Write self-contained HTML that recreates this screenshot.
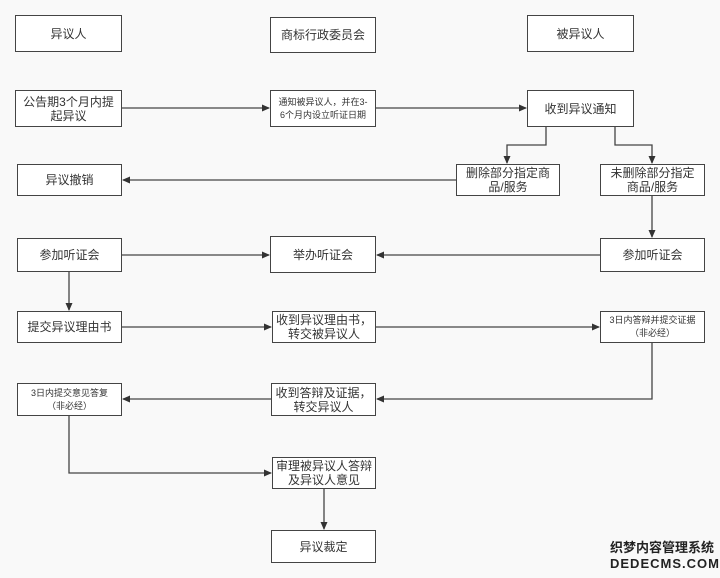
<!DOCTYPE html>
<html><head><meta charset="utf-8"><style>
body{margin:0;width:720px;height:578px;background:#f9f9f9;overflow:hidden;position:relative;font-family:"Liberation Sans","Noto Sans CJK SC",sans-serif;}
.b{position:absolute;border:1.5px solid #444;background:#fff;box-sizing:border-box;display:flex;align-items:center;justify-content:center;text-align:center;font-size:12px;color:#333;line-height:14px;}
.s{font-size:9px;line-height:13px;}
svg{position:absolute;left:0;top:0;}
</style></head><body>
<svg width="720" height="578">
<defs><marker id="a" markerWidth="8" markerHeight="8" refX="7" refY="4" orient="auto" markerUnits="userSpaceOnUse"><path d="M0,0.5 L8,4 L0,7.5z" fill="#333"/></marker></defs>
<g stroke="#444" stroke-width="1.3" fill="none" marker-end="url(#a)">
<path d="M122,108H269"/>
<path d="M376,108H526"/>
<path d="M546,127V145H507V163"/>
<path d="M615,127V145H652V163"/>
<path d="M456,180H123"/>
<path d="M652,196V237"/>
<path d="M600,255H377"/>
<path d="M122,255H269"/>
<path d="M69,272V310"/>
<path d="M122,327H271"/>
<path d="M376,327H599"/>
<path d="M652,343V399H377"/>
<path d="M271,399H123"/>
<path d="M69,416V473H271"/>
<path d="M324,489V529"/>
</g></svg>
<div class="b" style="left:15px;top:15px;width:107px;height:37px">异议人</div>
<div class="b" style="left:270px;top:17px;width:106px;height:36px">商标行政委员会</div>
<div class="b" style="left:527px;top:15px;width:107px;height:37px">被异议人</div>
<div class="b" style="left:15px;top:90px;width:107px;height:37px">公告期3个月内提<br>起异议</div>
<div class="b s" style="left:270px;top:90px;width:106px;height:37px">通知被异议人，并在3-<br>6个月内设立听证日期</div>
<div class="b" style="left:527px;top:90px;width:107px;height:37px">收到异议通知</div>
<div class="b" style="left:17px;top:164px;width:105px;height:32px">异议撤销</div>
<div class="b" style="left:456px;top:164px;width:104px;height:32px">删除部分指定商<br>品/服务</div>
<div class="b" style="left:600px;top:164px;width:105px;height:32px">未删除部分指定<br>商品/服务</div>
<div class="b" style="left:17px;top:238px;width:105px;height:34px">参加听证会</div>
<div class="b" style="left:270px;top:236px;width:106px;height:37px">举办听证会</div>
<div class="b" style="left:600px;top:238px;width:105px;height:34px">参加听证会</div>
<div class="b" style="left:17px;top:311px;width:105px;height:32px">提交异议理由书</div>
<div class="b" style="left:272px;top:311px;width:104px;height:32px">收到异议理由书，<br>转交被异议人</div>
<div class="b s" style="left:600px;top:311px;width:105px;height:32px">3日内答辩并提交证据<br>（非必经）</div>
<div class="b s" style="left:17px;top:383px;width:105px;height:33px">3日内提交意见答复<br>（非必经）</div>
<div class="b" style="left:271px;top:383px;width:105px;height:33px">收到答辩及证据，<br>转交异议人</div>
<div class="b" style="left:272px;top:457px;width:104px;height:32px">审理被异议人答辩<br>及异议人意见</div>
<div class="b" style="left:271px;top:530px;width:105px;height:33px">异议裁定</div>
<div style="position:absolute;left:610px;top:541px;font-size:13px;font-weight:bold;color:#222;line-height:14px;">织梦内容管理系统</div>
<div style="position:absolute;left:610px;top:557px;font-size:13px;font-weight:bold;color:#222;line-height:14px;letter-spacing:1px">DEDECMS.COM</div>
</body></html>
